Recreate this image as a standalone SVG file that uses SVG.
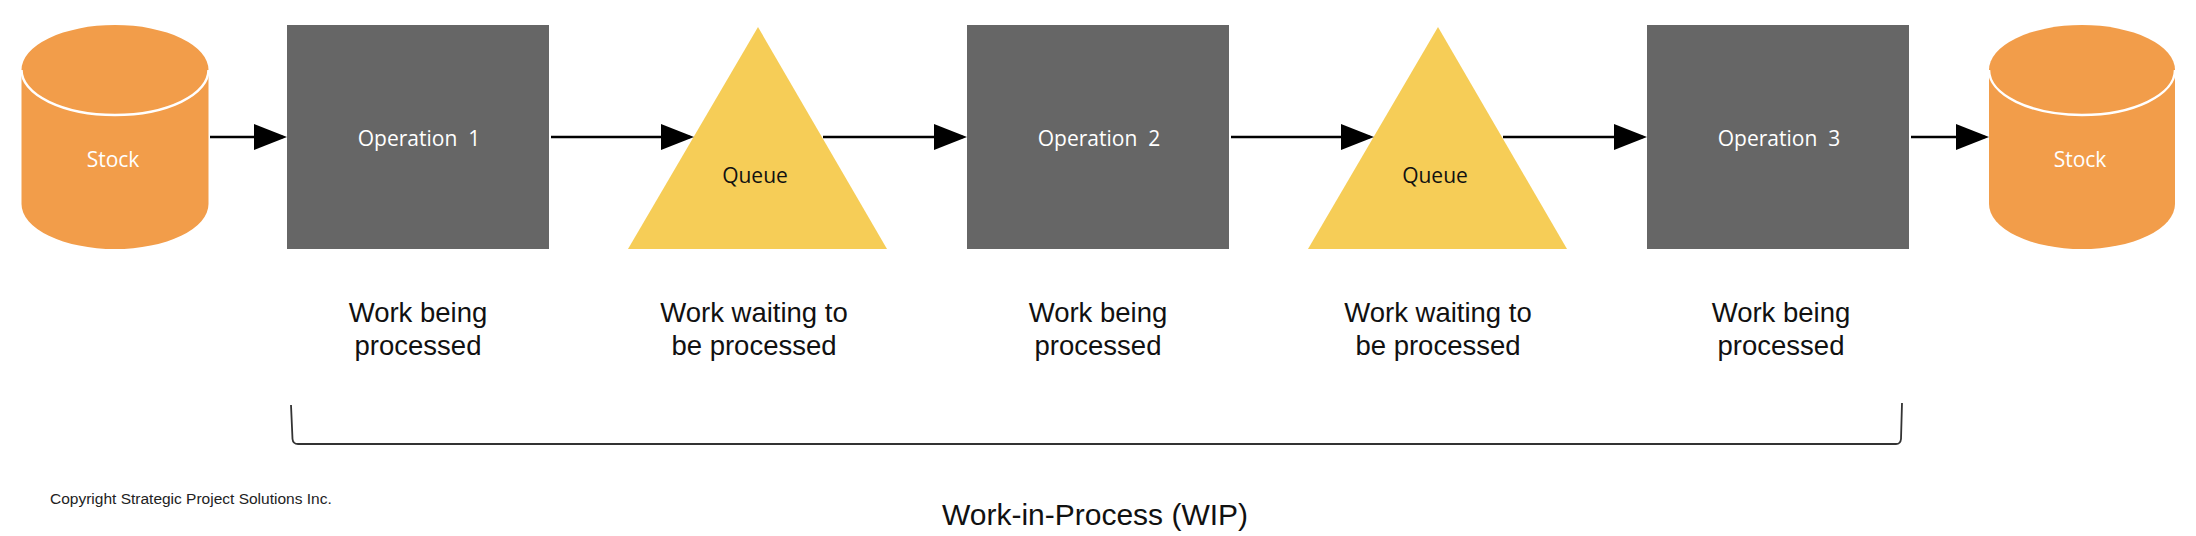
<svg xmlns="http://www.w3.org/2000/svg" width="2196" height="536" viewBox="0 0 2196 536">
  <style>
    .cyl { fill: #F29D4A; }
    .cyl-edge { fill: none; stroke: #FFFFFF; stroke-width: 2.5; }
    .op { fill: #666666; }
    .queue { fill: #F6CD57; }
    .lbl { font-family: "Open Sans", "Noto Sans", sans-serif; font-size: 21px; text-anchor: middle; white-space: pre; }
    .white { fill: #FFFFFF; }
    .dark { fill: #111111; }
    .desc { font-family: "Liberation Sans", Arial, sans-serif; font-size: 27.5px; fill: #111111; text-anchor: middle; }
    .conn { stroke: #000000; stroke-width: 2.6; fill: none; }
    .brace { stroke: #333333; stroke-width: 1.8; fill: none; }
  </style>
  <defs>
    <marker id="arrow" markerUnits="userSpaceOnUse" markerWidth="34" markerHeight="26" refX="29" refY="13" orient="auto">
      <path d="M0,0 L33,13 L0,26 Z" fill="#000000"/>
    </marker>
  </defs>
  <rect x="0" y="0" width="2196" height="536" fill="#FFFFFF"/>

  <g id="stock-in">
    <path class="cyl" d="M21.5,70 L21.5,204 A93.5,45 0 0 0 208.5,204 L208.5,70 A93.5,45 0 0 0 21.5,70 Z"/>
    <path class="cyl-edge" d="M21.5,70 A93.5,45 0 0 0 208.5,70"/>
    <text class="lbl white" x="113" y="167">Stock</text>
  </g>

  <g id="op1">
    <rect class="op" x="287" y="25" width="262" height="224"/>
    <text class="lbl white" x="419" y="146">Operation  1</text>
  </g>

  <g id="queue1">
    <polygon class="queue" points="758,27 887,249 628,249"/>
    <text class="lbl dark" x="755" y="183">Queue</text>
  </g>

  <g id="op2">
    <rect class="op" x="967" y="25" width="262" height="224"/>
    <text class="lbl white" x="1099" y="146">Operation  2</text>
  </g>

  <g id="queue2">
    <polygon class="queue" points="1438,27 1567,249 1308,249"/>
    <text class="lbl dark" x="1435" y="183">Queue</text>
  </g>

  <g id="op3">
    <rect class="op" x="1647" y="25" width="262" height="224"/>
    <text class="lbl white" x="1779" y="146">Operation  3</text>
  </g>

  <g id="stock-out">
    <path class="cyl" d="M1989,70 L1989,204 A93,45 0 0 0 2175,204 L2175,70 A93,45 0 0 0 1989,70 Z"/>
    <path class="cyl-edge" d="M1989,70 A93,45 0 0 0 2175,70"/>
    <text class="lbl white" x="2080" y="167">Stock</text>
  </g>

  <g id="connectors">
    <line class="conn" x1="210" y1="137" x2="283" y2="137" marker-end="url(#arrow)"/>
    <line class="conn" x1="551" y1="137" x2="690" y2="137" marker-end="url(#arrow)"/>
    <line class="conn" x1="823" y1="137" x2="963" y2="137" marker-end="url(#arrow)"/>
    <line class="conn" x1="1231" y1="137" x2="1370" y2="137" marker-end="url(#arrow)"/>
    <line class="conn" x1="1503" y1="137" x2="1643" y2="137" marker-end="url(#arrow)"/>
    <line class="conn" x1="1911" y1="137" x2="1985" y2="137" marker-end="url(#arrow)"/>
  </g>

  <g id="descriptions">
    <text class="desc" x="418" y="322">Work being</text>
    <text class="desc" x="418" y="355">processed</text>
    <text class="desc" x="754" y="322">Work waiting to</text>
    <text class="desc" x="754" y="355">be processed</text>
    <text class="desc" x="1098" y="322">Work being</text>
    <text class="desc" x="1098" y="355">processed</text>
    <text class="desc" x="1438" y="322">Work waiting to</text>
    <text class="desc" x="1438" y="355">be processed</text>
    <text class="desc" x="1781" y="322">Work being</text>
    <text class="desc" x="1781" y="355">processed</text>
  </g>

  <g id="wip-bracket">
    <path class="brace" d="M291,405 L292.5,439 Q293,444 298,444 L1896,444 Q1900.5,444 1901,439 L1902,403"/>
    <text x="1095" y="525" font-family="'Liberation Sans', Arial, sans-serif" font-size="30" fill="#111111" text-anchor="middle">Work-in-Process (WIP)</text>
  </g>

  <text x="50" y="504" font-family="'Liberation Sans', Arial, sans-serif" font-size="15.5" fill="#222222">Copyright Strategic Project Solutions Inc.</text>
</svg>
